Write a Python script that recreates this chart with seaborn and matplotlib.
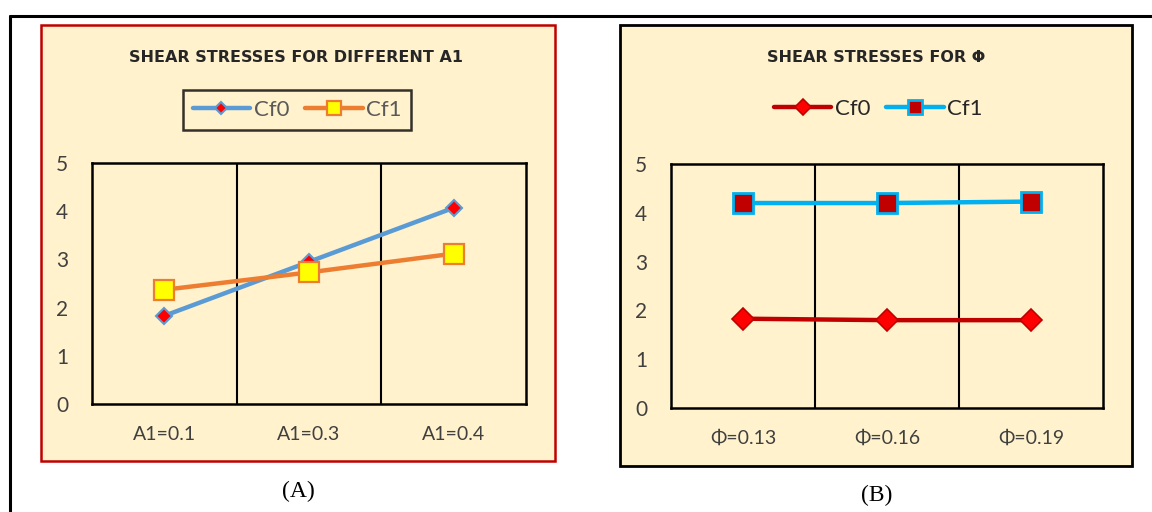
import matplotlib
matplotlib.use("Agg")
import matplotlib.pyplot as plt
from matplotlib.patches import Rectangle
from matplotlib.lines import Line2D
import pandas as pd
import seaborn as sns

# Panel (A): shear stresses for different A1
a_categories = ["A1=0.1", "A1=0.3", "A1=0.4"]
a_cf0 = [1.83, 2.95, 4.07]
a_cf1 = [2.37, 2.73, 3.12]

# Panel (B): shear stresses for different Φ
b_categories = ["Φ=0.13", "Φ=0.16", "Φ=0.19"]
b_cf0 = [1.83, 1.80, 1.80]
b_cf1 = [4.20, 4.20, 4.23]

y_ticks = [0, 1, 2, 3, 4, 5]

sns.set_theme(style="white")
plt.rcParams["font.family"] = ["Lato", "DejaVu Sans"]

W, H = 1152, 512
fig = plt.figure(figsize=(W / 100, H / 100), dpi=100)
fig.patch.set_facecolor("white")

CREAM = "#FFF2CC"
TITLE_FONT = ["DejaVu Sans"]


def fbox(x0, y0, x1, y1):
    """Pixel box (top-left origin) to figure-fraction rect."""
    return [x0 / W, 1 - y1 / H, (x1 - x0) / W, (y1 - y0) / H]


def fx(x):
    return x / W


def fy(y):
    return 1 - y / H


# outer table border (top and left rules)
fig.add_artist(Line2D([fx(10), 1.0], [fy(16), fy(16)], color="black", lw=2.2,
                      transform=fig.transFigure))
fig.add_artist(Line2D([fx(10), fx(10)], [fy(16), 0.0], color="black", lw=2.2,
                      transform=fig.transFigure))

# chart frames
ra = fbox(41, 25, 555, 461)
fig.add_artist(Rectangle((ra[0], ra[1]), ra[2], ra[3], transform=fig.transFigure,
                         facecolor=CREAM, edgecolor="#C00000", lw=1.8, zorder=0))
rb = fbox(620, 25, 1132, 466)
fig.add_artist(Rectangle((rb[0], rb[1]), rb[2], rb[3], transform=fig.transFigure,
                         facecolor=CREAM, edgecolor="black", lw=2.0, zorder=0))


def style_axes(ax, cats):
    ax.set_facecolor(CREAM)
    ax.set_xlim(-0.5, len(cats) - 0.5)
    ax.set_ylim(0, 5)
    ax.set_yticks(y_ticks)
    ax.set_xticks(range(len(cats)))
    ax.set_xticklabels(cats)
    for b in [0.5, 1.5]:
        ax.axvline(b, color="black", lw=1.5, zorder=1)
    for s in ax.spines.values():
        s.set_visible(True)
        s.set_color("black")
        s.set_linewidth(1.8)
    ax.tick_params(axis="y", length=0, pad=17, labelsize=15, labelcolor="#404040")
    ax.tick_params(axis="x", length=0, pad=16, labelsize=14, labelcolor="#404040")
    ax.set_xlabel("")
    ax.set_ylabel("")
    ax.grid(False)


# ---- panel A ----
axA = fig.add_axes(fbox(92, 163, 526, 404))
dfa = pd.DataFrame({"cat": a_categories, "Cf0": a_cf0, "Cf1": a_cf1})
sns.lineplot(data=dfa, x="cat", y="Cf0", ax=axA, color="#5B9BD5", lw=3.2,
             marker="D", markersize=8, markerfacecolor="#FF0000",
             markeredgecolor="#5B9BD5", markeredgewidth=1.5, label="Cf0", zorder=3)
sns.lineplot(data=dfa, x="cat", y="Cf1", ax=axA, color="#ED7D31", lw=3.2,
             marker="s", markersize=14, markerfacecolor="#FFFF00",
             markeredgecolor="#ED7D31", markeredgewidth=1.6, label="Cf1", zorder=4)
style_axes(axA, a_categories)
legA = axA.legend(loc="center", bbox_to_anchor=(fx(297), fy(110)),
                  bbox_transform=fig.transFigure, ncol=2, frameon=True,
                  fontsize=16, handlelength=2.6, columnspacing=0.7,
                  handletextpad=0.15, borderpad=0.45, fancybox=False,
                  labelcolor="#595959", markerscale=0.75)
legA.get_frame().set_edgecolor("black")
legA.get_frame().set_linewidth(1.8)
legA.get_frame().set_facecolor(CREAM)
fig.text(fx(296), fy(57), "SHEAR STRESSES FOR DIFFERENT A1", ha="center",
         va="center", fontsize=11.5, fontweight="bold", color="#262626",
         family=TITLE_FONT)
fig.text(fx(298), fy(491), "(A)", ha="center", va="center", fontsize=17,
         family=["Liberation Serif", "DejaVu Serif"], color="black")

# ---- panel B ----
axB = fig.add_axes(fbox(671, 164, 1103, 408))
dfb = pd.DataFrame({"cat": b_categories, "Cf0": b_cf0, "Cf1": b_cf1})
sns.lineplot(data=dfb, x="cat", y="Cf0", ax=axB, color="#C00000", lw=3.2,
             marker="D", markersize=11, markerfacecolor="#FF0000",
             markeredgecolor="#C00000", markeredgewidth=1.2, label="Cf0", zorder=3)
sns.lineplot(data=dfb, x="cat", y="Cf1", ax=axB, color="#00B0F0", lw=3.2,
             marker="s", markersize=14, markerfacecolor="#C00000",
             markeredgecolor="#00B0F0", markeredgewidth=2.0, label="Cf1", zorder=4)
style_axes(axB, b_categories)
legB = axB.legend(loc="center", bbox_to_anchor=(fx(878), fy(109)),
                  bbox_transform=fig.transFigure, ncol=2, frameon=False,
                  fontsize=16, handlelength=2.6, columnspacing=0.7,
                  handletextpad=0.15, labelcolor="#262626", markerscale=0.75)
fig.text(fx(876), fy(57), "SHEAR STRESSES FOR Φ", ha="center", va="center",
         fontsize=11.5, fontweight="bold", color="#262626", family=TITLE_FONT)
fig.text(fx(877), fy(495), "(B)", ha="center", va="center", fontsize=17,
         family=["Liberation Serif", "DejaVu Serif"], color="black")

fig.savefig("out.png", dpi=100, facecolor="white")
